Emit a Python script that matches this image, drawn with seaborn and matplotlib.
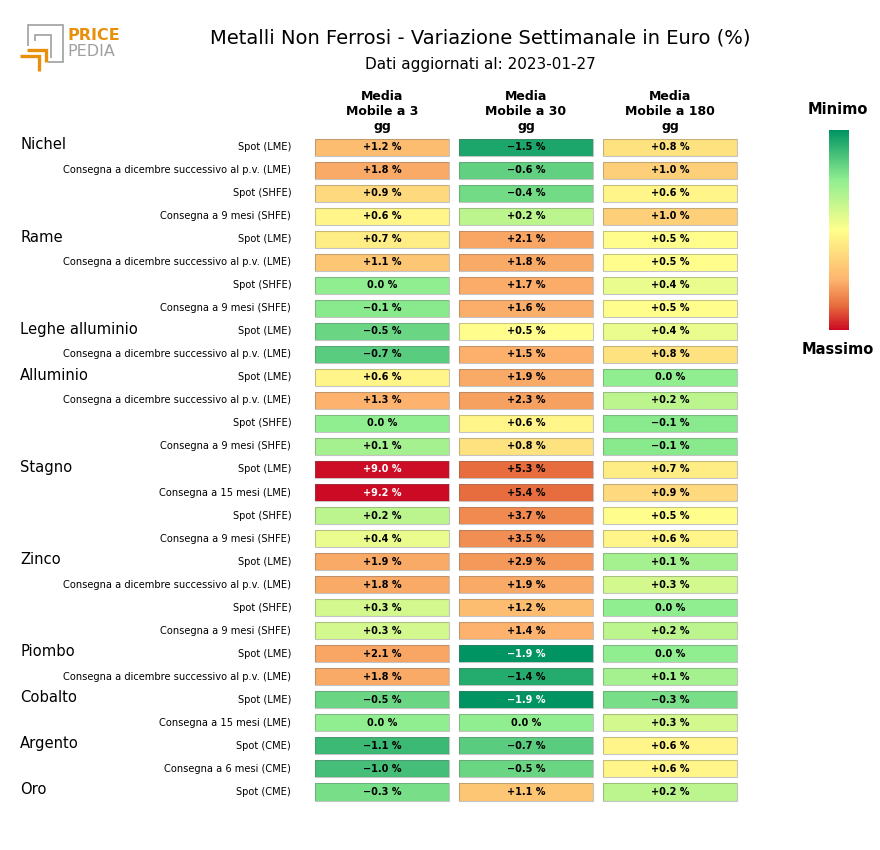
import numpy as np
import pandas as pd
import matplotlib
matplotlib.use("Agg")
import matplotlib.pyplot as plt
import seaborn as sns
from matplotlib.colors import LinearSegmentedColormap, FuncNorm, Normalize
from matplotlib.patches import Rectangle
from matplotlib.lines import Line2D
from matplotlib.cm import ScalarMappable
import matplotlib.transforms as mtrans

# ---------------- data ----------------
groups = ["Nichel", "Rame", "Leghe alluminio", "Alluminio", "Stagno",
          "Zinco", "Piombo", "Cobalto", "Argento", "Oro"]
group_sizes = [4, 4, 2, 4, 4, 4, 2, 2, 2, 1]

sub_labels = [
    "Spot (LME)", "Consegna a dicembre successivo al p.v. (LME)", "Spot (SHFE)", "Consegna a 9 mesi (SHFE)",
    "Spot (LME)", "Consegna a dicembre successivo al p.v. (LME)", "Spot (SHFE)", "Consegna a 9 mesi (SHFE)",
    "Spot (LME)", "Consegna a dicembre successivo al p.v. (LME)",
    "Spot (LME)", "Consegna a dicembre successivo al p.v. (LME)", "Spot (SHFE)", "Consegna a 9 mesi (SHFE)",
    "Spot (LME)", "Consegna a 15 mesi (LME)", "Spot (SHFE)", "Consegna a 9 mesi (SHFE)",
    "Spot (LME)", "Consegna a dicembre successivo al p.v. (LME)", "Spot (SHFE)", "Consegna a 9 mesi (SHFE)",
    "Spot (LME)", "Consegna a dicembre successivo al p.v. (LME)",
    "Spot (LME)", "Consegna a 15 mesi (LME)",
    "Spot (CME)", "Consegna a 6 mesi (CME)",
    "Spot (CME)",
]

column_titles = ["Media\nMobile a 3\ngg", "Media\nMobile a 30\ngg", "Media\nMobile a 180\ngg"]

ma3 = [1.2, 1.8, 0.9, 0.6,
       0.7, 1.1, 0.0, -0.1,
       -0.5, -0.7,
       0.6, 1.3, 0.0, 0.1,
       9.0, 9.2, 0.2, 0.4,
       1.9, 1.8, 0.3, 0.3,
       2.1, 1.8,
       -0.5, 0.0,
       -1.1, -1.0,
       -0.3]
ma30 = [-1.5, -0.6, -0.4, 0.2,
        2.1, 1.8, 1.7, 1.6,
        0.5, 1.5,
        1.9, 2.3, 0.6, 0.8,
        5.3, 5.4, 3.7, 3.5,
        2.9, 1.9, 1.2, 1.4,
        -1.9, -1.4,
        -1.9, 0.0,
        -0.7, -0.5,
        1.1]
ma180 = [0.8, 1.0, 0.6, 1.0,
         0.5, 0.5, 0.4, 0.5,
         0.4, 0.8,
         0.0, 0.2, -0.1, -0.1,
         0.7, 0.9, 0.5, 0.6,
         0.1, 0.3, 0.0, 0.2,
         0.0, 0.1,
         -0.3, 0.3,
         0.6, 0.6,
         0.2]

title = "Metalli Non Ferrosi - Variazione Settimanale in Euro (%)"
subtitle = "Dati aggiornati al: 2023-01-27"

# ---------------- style ----------------
sns.set_style("white")
plt.rcParams["font.family"] = ["DejaVu Sans"]
plt.rcParams["text.color"] = "black"
plt.rcParams["ytick.color"] = "black"
plt.rcParams["ytick.labelcolor"] = "black"
plt.rcParams["axes.titlecolor"] = "black"

W, H = 880, 850
fig = plt.figure(figsize=(W / 100, H / 100), dpi=100)
fig.patch.set_facecolor("white")

cmap = LinearSegmentedColormap.from_list(
    "pp", [(0.0, "#009462"), (0.25, "#90EE90"), (0.5, "#FFFF8C"),
           (0.75, "#FDB46E"), (0.875, "#E8703F"), (1.0, "#CC0A24")])
all_vals = np.array(ma3 + ma30 + ma180)
vmin, vmax = all_vals.min(), all_vals.max()
nodes_v = [vmin, 0.0, 0.5, 1.3, 5.3, vmax]
nodes_p = [0.0, 0.25, 0.5, 0.75, 0.875, 1.0]


def fwd(x):
    return np.interp(x, nodes_v, nodes_p)


def inv(y):
    return np.interp(y, nodes_p, nodes_v)


norm = FuncNorm((fwd, inv), vmin=vmin, vmax=vmax)


def fmt(v):
    if abs(v) < 1e-9:
        return "0.0 %"
    s = f"{v:+.1f} %"
    return s.replace("-", "\u2212")


top_px, bot_px = 135.5, 803.5
col_left = [312, 456, 600]
col_w = 140
n = len(sub_labels)
row_px = (bot_px - top_px) / n
dx = 3 / col_w
dy = 3 / row_px

series = [ma3, ma30, ma180]
axes = []
for j, (vals, ctitle) in enumerate(zip(series, column_titles)):
    ax = fig.add_axes([col_left[j] / W, 1 - bot_px / H, col_w / W, (bot_px - top_px) / H])
    axes.append(ax)
    df = pd.DataFrame({ctitle: vals}, index=range(n))
    annot = np.array([fmt(v) for v in vals]).reshape(-1, 1)
    sns.heatmap(df, ax=ax, cmap=cmap, norm=norm, annot=annot, fmt="",
                cbar=False, linewidths=4.32, linecolor="white",
                annot_kws=dict(fontsize=7.0, fontweight="bold"),
                xticklabels=False,
                yticklabels=sub_labels if j == 0 else False)
    for t, v in zip(ax.texts, vals):
        p = float(norm(v))
        t.set_color("white" if (p < 0.03 or p > 0.95) else "black")
    for i in range(n):
        ax.add_patch(Rectangle((dx, i + dy), 1 - 2 * dx, 1 - 2 * dy, fill=False,
                               edgecolor=(0.4, 0.4, 0.4, 0.38), lw=0.8))
    ax.set_title(ctitle, fontsize=9, fontweight="bold", pad=4, linespacing=1.2,
                 color="black")
    ax.set_xlabel("")
    ax.set_ylabel("")
    ax.tick_params(axis="both", length=0)
    if j == 0:
        ax.tick_params(axis="y", pad=15, labelsize=7.1, labelcolor="black")
        for lab in ax.get_yticklabels():
            lab.set_rotation(0)
            lab.set_color("black")

# group labels
trans = mtrans.blended_transform_factory(fig.transFigure, axes[0].transData)
start = 0
for g, s in zip(groups, group_sizes):
    axes[0].text(20 / W, start + 0.5 - 0.09, g, transform=trans, ha="left", va="center",
                 fontsize=10.6, color="black", clip_on=False)
    start += s

# colorbar
cax = fig.add_axes([829 / W, 1 - 330 / H, 20 / W, 200 / H])
cb = fig.colorbar(ScalarMappable(norm=Normalize(0, 1), cmap=cmap), cax=cax)
cax.invert_yaxis()
cb.set_ticks([])
cb.outline.set_visible(False)
fig.text(838 / W, 1 - 110 / H, "Minimo", ha="center", va="center", fontsize=10.5,
         fontweight="bold", color="black")
fig.text(838 / W, 1 - 350 / H, "Massimo", ha="center", va="center", fontsize=10.5,
         fontweight="bold", color="black")

# titles
fig.text(480 / W, 1 - 38 / H, title, ha="center", va="center", fontsize=14, color="black")
fig.text(480 / W, 1 - 64 / H, subtitle, ha="center", va="center", fontsize=11, color="black")

# logo
gray = "#a0a0a0"
orange = "#E8900C"


def line(pts, color, lw):
    xs = [p[0] / W for p in pts]
    ys = [1 - p[1] / H for p in pts]
    fig.add_artist(Line2D(xs, ys, transform=fig.transFigure, color=color, lw=lw,
                          solid_capstyle="butt", solid_joinstyle="miter"))


line([(28, 46), (28, 25), (63, 25), (63, 62), (48, 62)], gray, 1.2)
line([(35, 41), (35, 35), (51, 35), (51, 58)], gray, 1.2)
line([(27, 49.5), (45.5, 49.5), (45.5, 62)], orange, 2.4)
line([(20, 56), (38.5, 56), (38.5, 71)], orange, 2.4)
fig.text(67 / W, 1 - 36 / H, "PRICE", ha="left", va="center", fontsize=11.5,
         fontweight="bold", color=orange)
fig.text(67 / W, 1 - 52 / H, "PEDIA", ha="left", va="center", fontsize=11.5,
         color=gray)

fig.savefig("out.png", dpi=100, facecolor="white")
